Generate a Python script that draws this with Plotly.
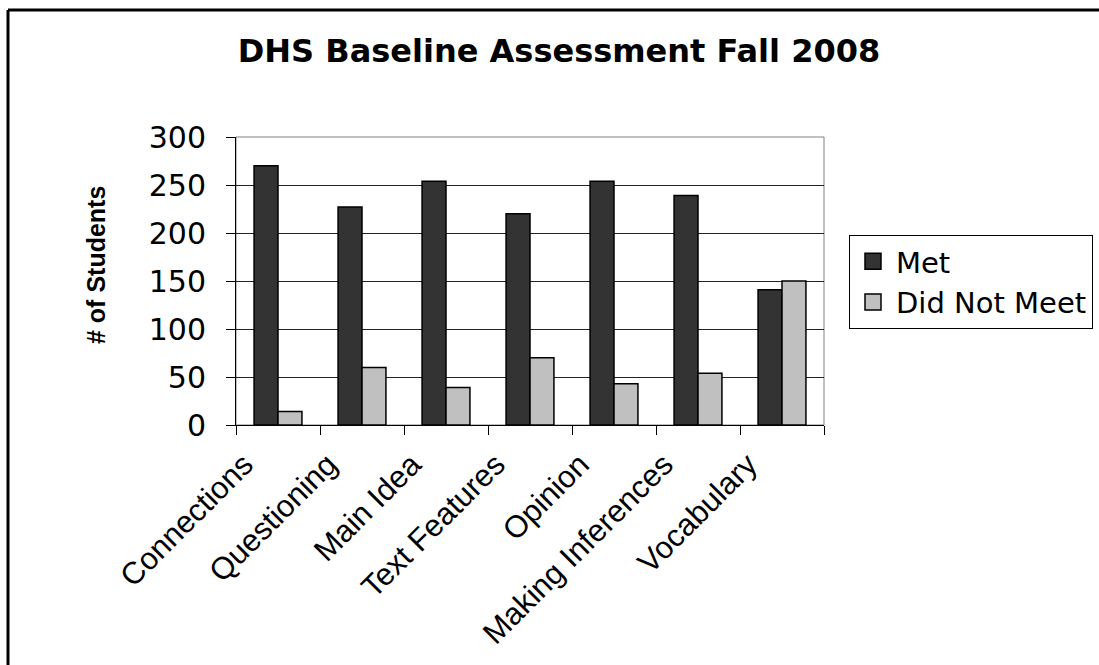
import plotly.graph_objects as go

categories = ["Connections", "Questioning", "Main Idea", "Text Features",
              "Opinion", "Making Inferences", "Vocabulary"]
met = [270, 227, 254, 220, 254, 239, 141]
did_not_meet = [14, 60, 39, 70, 43, 54, 150]
y_ticks = [0, 50, 100, 150, 200, 250, 300]

W, H = 1099, 665
L, R, T, B = 236, 824, 137, 425   # plot-area edges in pixels


def px_x(p):
    return (p - L) / (R - L)


def px_y(p):
    return (B - p) / (B - T)


fig = go.Figure()
fig.add_trace(go.Bar(name="Met", x=categories, y=met, marker_color="#333333",
                     marker_line=dict(color="#000000", width=1.5), showlegend=False))
fig.add_trace(go.Bar(name="Did Not Meet", x=categories, y=did_not_meet,
                     marker_color="#C0C0C0",
                     marker_line=dict(color="#000000", width=1.5), showlegend=False))
# legend swatches (larger squares than the default bar icon)
for name, col in [("Met", "#333333"), ("Did Not Meet", "#C0C0C0")]:
    fig.add_trace(go.Scatter(name=name, x=[None], y=[None], mode="markers",
                             marker=dict(symbol="square", size=16, color=col,
                                         line=dict(color="#000000", width=1.5))))

fig.update_layout(
    width=W, height=H,
    margin=dict(l=L, r=W - R, t=T, b=H - B, pad=0, autoexpand=False),
    paper_bgcolor="white", plot_bgcolor="white",
    barmode="group", bargap=0.43, bargroupgap=0,
    font=dict(family="DejaVu Sans", color="#000000"),
    title=dict(text="<b>DHS Baseline Assessment Fall 2008</b>",
               font=dict(family="DejaVu Sans", size=32, color="#000000"),
               x=px_x(559), xref="paper", xanchor="center",
               y=1 - 51 / H, yref="container", yanchor="middle"),
    legend=dict(x=px_x(849), y=px_y(235), xanchor="left", yanchor="top",
                font=dict(family="DejaVu Sans", size=29, color="#000000"),
                itemwidth=36,
                bordercolor="#000000", borderwidth=1, bgcolor="white"),
    xaxis=dict(type="category", tickson="boundaries", ticks="outside", ticklen=9,
               tickcolor="#000000", tickwidth=1, showgrid=False,
               showline=True, linecolor="#000000", linewidth=1, automargin=False,
               tickangle=-45, ticklabelshift=-34, ticklabelstandoff=8,
               tickfont=dict(family="Liberation Sans", size=31)),
    yaxis=dict(range=[0, 300], tickvals=y_ticks, ticks="outside", ticklen=9,
               tickcolor="#000000", showgrid=True, gridcolor="#222222", gridwidth=1,
               showline=True, linecolor="#000000", linewidth=1, zeroline=False,
               automargin=False,
               tickfont=dict(family="DejaVu Sans", size=30),
               ticklabelstandoff=14),
    shapes=[
        # plot-area frame
        dict(type="rect", xref="paper", yref="paper", x0=0, x1=1, y0=0, y1=1,
             line=dict(color="#808080", width=1), layer="below"),
        # chart border (left and top edges)
        dict(type="line", xref="paper", yref="paper", x0=px_x(8), x1=px_x(8),
             y0=px_y(10), y1=px_y(H), line=dict(color="#000000", width=3)),
        dict(type="line", xref="paper", yref="paper", x0=px_x(8), x1=px_x(W),
             y0=px_y(10), y1=px_y(10), line=dict(color="#000000", width=3)),
    ],
    annotations=[
        dict(text="<b># of Students</b>", xref="paper", yref="paper",
             x=px_x(96), y=px_y(265), xanchor="center", yanchor="middle",
             textangle=-90, showarrow=False,
             font=dict(family="Liberation Sans", size=25, color="#000000")),
    ],
)

fig.write_html("out.html")
